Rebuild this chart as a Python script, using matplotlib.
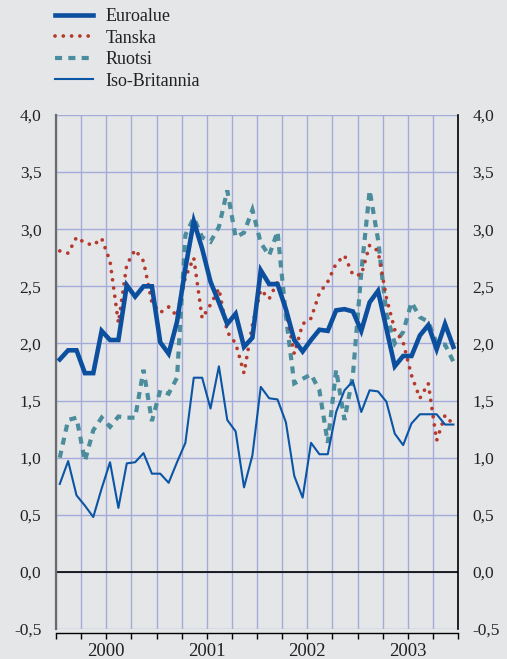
import numpy as np
import matplotlib
matplotlib.use("Agg")
import matplotlib.pyplot as plt
import matplotlib.transforms as mtransforms
from matplotlib.ticker import FixedLocator, FuncFormatter

# monthly values 2000-01 .. 2003-12
euroalue = [1.86, 1.94, 1.94, 1.74, 1.74, 2.11, 2.03, 2.03, 2.51, 2.41, 2.50, 2.50,
            2.01, 1.91, 2.19, 2.66, 3.07, 2.83, 2.54, 2.36, 2.17, 2.26, 1.97, 2.05,
            2.64, 2.52, 2.52, 2.30, 2.03, 1.93, 2.03, 2.12, 2.11, 2.29, 2.30, 2.28,
            2.11, 2.36, 2.46, 2.13, 1.80, 1.89, 1.89, 2.07, 2.16, 1.95, 2.17, 1.97]
tanska = [2.81, 2.79, 2.93, 2.88, 2.86, 2.92, 2.72, 2.18, 2.69, 2.82, 2.72, 2.36,
          2.27, 2.32, 2.24, 2.58, 2.75, 2.22, 2.34, 2.48, 2.10, 2.00, 1.74, 2.16,
          2.47, 2.39, 2.54, 2.29, 1.91, 2.17, 2.22, 2.44, 2.54, 2.70, 2.77, 2.60,
          2.60, 2.86, 2.81, 2.40, 2.12, 2.01, 1.72, 1.52, 1.65, 1.15, 1.37, 1.29]
ruotsi = [1.00, 1.33, 1.35, 0.97, 1.24, 1.35, 1.27, 1.36, 1.35, 1.35, 1.77, 1.32,
          1.59, 1.56, 1.70, 2.95, 3.10, 2.93, 2.89, 3.02, 3.34, 2.93, 2.97, 3.17,
          2.88, 2.77, 2.98, 2.24, 1.65, 1.69, 1.73, 1.59, 1.13, 1.77, 1.33, 1.72,
          2.62, 3.34, 2.91, 2.26, 2.00, 2.10, 2.36, 2.23, 2.19, 2.00, 1.99, 1.84]
iso_britannia = [0.77, 0.97, 0.67, 0.58, 0.48, 0.73, 0.96, 0.56, 0.95, 0.96, 1.04, 0.86,
                 0.86, 0.78, 0.96, 1.13, 1.70, 1.70, 1.43, 1.80, 1.33, 1.23, 0.74, 1.02,
                 1.62, 1.52, 1.51, 1.31, 0.84, 0.65, 1.13, 1.03, 1.03, 1.40, 1.59, 1.67,
                 1.40, 1.59, 1.58, 1.49, 1.21, 1.11, 1.30, 1.38, 1.38, 1.38, 1.29, 1.29]
years = ["2000", "2001", "2002", "2003"]
y_ticks = [-0.5, 0.0, 0.5, 1.0, 1.5, 2.0, 2.5, 3.0, 3.5, 4.0]

bg = "#e5e6e8"
txt = "#222222"
plt.rcParams["font.family"] = ["Liberation Serif", "DejaVu Serif"]
fs = 12.5

fig = plt.figure(figsize=(5.07, 6.59), dpi=100, facecolor=bg)
ax = fig.add_axes([56 / 507, 1 - 629 / 659, 402 / 507, 514 / 659])
ax.set_facecolor(bg)

x = np.arange(len(euroalue)) + 0.45
ax.plot(x, euroalue, color="#0b4f9e", lw=3.3, solid_joinstyle="miter", label="Euroalue", zorder=5)
ax.plot(x, tanska, color="#b5392c", lw=2.7, linestyle=(0, (0.01, 2.2)),
        dash_capstyle="round", label="Tanska", zorder=4)
ax.plot(x, ruotsi, color="#4b8d9c", lw=3.0, linestyle=(0, (1.7, 1.5)),
        dash_joinstyle="miter", dash_capstyle="butt", label="Ruotsi", zorder=3)
ax.plot(x, iso_britannia, color="#0b55a5", lw=1.5, label="Iso-Britannia", zorder=4)

ax.set_xlim(0, 48)
ax.set_ylim(-0.5, 4.0)

ax.axhline(0, color="black", lw=1.2, zorder=2)

# quarter grid + ticks, year labels centred under each year
ax.xaxis.set_major_locator(FixedLocator(np.arange(0, 49, 3)))
ax.xaxis.set_major_formatter(FuncFormatter(lambda v, p: ""))
ax.yaxis.set_major_locator(FixedLocator(y_ticks))
ax.yaxis.set_major_formatter(FuncFormatter(lambda v, p: f"{v:.1f}".replace(".", ",")))
ax.grid(True, which="major", color="#a3acd9", lw=1.0, zorder=1)

trans = mtransforms.blended_transform_factory(ax.transData, ax.transAxes)
for i, yr in enumerate(years):
    ax.text(12 * i + 6, -23 / 514, yr, transform=trans, ha="center", va="center",
            fontsize=fs + 1, color=txt)

ax.tick_params(axis="x", which="major", direction="out", length=4, width=1, color="black")
ax.tick_params(axis="y", left=False, right=False, labelleft=True, labelright=True,
               labelsize=fs, labelcolor=txt, pad=7)

ax.spines["top"].set_visible(False)
ax.spines["left"].set_color("#6b6b6b")
ax.spines["left"].set_linewidth(1.6)
ax.spines["right"].set_color("black")
ax.spines["right"].set_linewidth(1.2)
ax.spines["bottom"].set_color("black")
ax.spines["bottom"].set_linewidth(1.0)
ax.spines["bottom"].set_position(("outward", 3))

fig.legend(loc="upper left", bbox_to_anchor=(55 / 507, 1 - 8 / 659), frameon=False,
           fontsize=fs + 0.5, handlelength=2.1, handletextpad=0.7, labelspacing=0.25,
           borderpad=0, borderaxespad=0, labelcolor=txt)

fig.savefig("out.png", dpi=100, facecolor=bg)
